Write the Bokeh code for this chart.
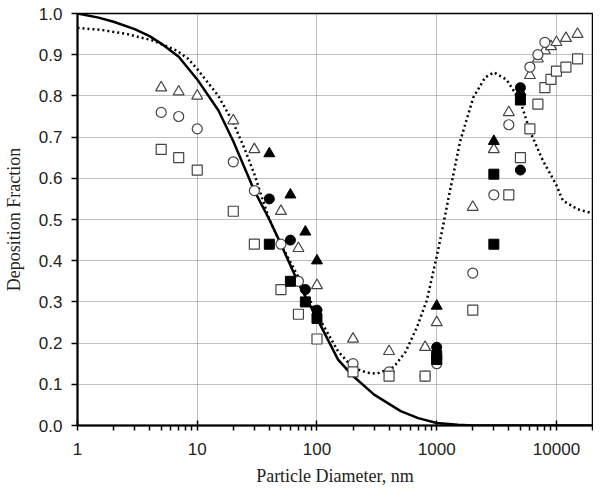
from bokeh.plotting import figure
from bokeh.models import Range1d, FixedTicker
from bokeh.embed import file_html
from bokeh.resources import INLINE

# ---- data ----
open_tri_x = [5, 7, 10, 20, 30, 50, 70, 100, 200, 400, 800, 1000, 2000, 3000, 4000, 6000, 7000, 8000, 9000, 10000, 12000, 15000]
open_tri_y = [0.82, 0.81, 0.80, 0.74, 0.67, 0.52, 0.43, 0.34, 0.21, 0.18, 0.19, 0.25, 0.53, 0.67, 0.76, 0.85, 0.89, 0.91, 0.92, 0.93, 0.94, 0.95]

open_circ_x = [5, 7, 10, 20, 30, 50, 70, 200, 400, 800, 1000, 2000, 3000, 4000, 6000, 7000, 8000]
open_circ_y = [0.76, 0.75, 0.72, 0.64, 0.57, 0.44, 0.35, 0.15, 0.13, 0.12, 0.15, 0.37, 0.56, 0.73, 0.87, 0.90, 0.93]

open_sq_x = [5, 7, 10, 20, 30, 50, 70, 100, 200, 400, 800, 2000, 4000, 5000, 6000, 7000, 8000, 9000, 10000, 12000, 15000]
open_sq_y = [0.67, 0.65, 0.62, 0.52, 0.44, 0.33, 0.27, 0.21, 0.13, 0.12, 0.12, 0.28, 0.56, 0.65, 0.72, 0.78, 0.82, 0.84, 0.86, 0.87, 0.89]

fill_tri_x = [40, 60, 80, 100, 1000, 3000, 5000]
fill_tri_y = [0.66, 0.56, 0.47, 0.40, 0.29, 0.69, 0.81]

fill_circ_x = [40, 60, 80, 100, 1000, 5000, 5000]
fill_circ_y = [0.55, 0.45, 0.33, 0.28, 0.19, 0.82, 0.62]

fill_sq_x = [40, 60, 80, 100, 1000, 1000, 3000, 3000, 5000]
fill_sq_y = [0.44, 0.35, 0.30, 0.26, 0.17, 0.16, 0.61, 0.44, 0.79]

solid_x = [1, 1.5, 2, 3, 4, 5, 7, 10, 15, 20, 30, 40, 50, 70, 100, 150, 200, 300, 500, 700, 1000, 1500, 2000, 5000, 20000]
solid_y = [1.0, 0.99, 0.98, 0.962, 0.945, 0.927, 0.895, 0.84, 0.765, 0.69, 0.57, 0.50, 0.44, 0.345, 0.26, 0.16, 0.12, 0.075, 0.035, 0.018, 0.006, 0.002, 0.0, 0.0, 0.0]

dotted_x = [1, 1.6, 2.6, 4.2, 6.75, 8.4, 10, 15, 20, 25, 30, 35, 40, 50, 70, 100, 150, 200, 264, 318, 438, 550, 685, 827, 1000, 1140, 1250, 1570, 2020, 2540, 3000, 3820, 4980, 6000, 7700, 9900, 11300, 15000, 20000]
dotted_y = [0.965, 0.96, 0.95, 0.935, 0.91, 0.89, 0.865, 0.80, 0.735, 0.67, 0.61, 0.55, 0.50, 0.44, 0.36, 0.27, 0.18, 0.14, 0.128, 0.126, 0.142, 0.179, 0.239, 0.304, 0.41, 0.49, 0.55, 0.69, 0.796, 0.845, 0.857, 0.84, 0.788, 0.715, 0.643, 0.586, 0.546, 0.525, 0.515]

x_ticks = [1, 10, 100, 1000, 10000]
x_tick_labels = ["1", "10", "100", "1000", "10000"]
y_ticks = [0.0, 0.1, 0.2, 0.3, 0.4, 0.5, 0.6, 0.7, 0.8, 0.9, 1.0]

# ---- figure ----
p = figure(width=593, height=494, x_axis_type="log",
           x_range=Range1d(1, 20000), y_range=Range1d(0, 1),
           output_backend="svg", toolbar_location=None,
           min_border_left=75, min_border_right=1, min_border_top=13, min_border_bottom=69)
p.background_fill_color = "white"
p.border_fill_color = "white"
p.outline_line_color = "black"
p.outline_line_width = 1.5

minor = []
for d in [1, 10, 100, 1000, 10000]:
    for k in range(2, 10):
        if d * k <= 20000:
            minor.append(d * k)
p.xaxis.ticker = FixedTicker(ticks=x_ticks, minor_ticks=minor)
p.xaxis.major_label_overrides = {t: l for t, l in zip(x_ticks, x_tick_labels)}
p.yaxis.ticker = FixedTicker(ticks=y_ticks)
p.yaxis.major_label_overrides = {t: f"{t:.1f}" for t in y_ticks}

for ax in (p.xaxis, p.yaxis):
    ax.axis_line_color = "black"
    ax.axis_line_width = 2
    ax.major_tick_line_color = "black"
    ax.major_tick_line_width = 1.5
    ax.minor_tick_line_color = "black"
    ax.minor_tick_line_width = 1.5
    ax.major_label_text_font = "Liberation Sans"
    ax.major_label_text_font_size = "17px"
    ax.major_label_text_color = "#222222"
    ax.axis_label_text_font = "Liberation Serif"
    ax.axis_label_text_font_size = "18px"
    ax.axis_label_text_font_style = "normal"
    ax.axis_label_text_color = "#222222"

p.xaxis.major_tick_in = 5
p.xaxis.major_tick_out = 5
p.xaxis.minor_tick_in = 0
p.xaxis.minor_tick_out = 5
p.xaxis.major_label_standoff = 12
p.xaxis.axis_label = "Particle Diameter, nm"
p.xaxis.axis_label_standoff = 8

p.yaxis.major_tick_in = 0
p.yaxis.major_tick_out = 6
p.yaxis.minor_tick_line_color = None
p.yaxis.major_label_standoff = 9
p.yaxis.axis_label = "Deposition Fraction"
p.yaxis.axis_label_standoff = 12

for g in (p.xgrid, p.ygrid):
    g.grid_line_color = "#808080"
    g.grid_line_dash = "1 1"
    g.grid_line_width = 1

# curves
p.line(solid_x, solid_y, line_color="black", line_width=2.5)
p.line(dotted_x, dotted_y, line_color="black", line_width=2.5, line_dash="2 3")

# markers
mk_line = "#444444"
p.scatter(open_tri_x, open_tri_y, marker="triangle", size=11, fill_color="white", line_color=mk_line, line_width=1.2)
p.scatter(open_circ_x, open_circ_y, marker="circle", size=10, fill_color="white", line_color=mk_line, line_width=1.2)
p.scatter(open_sq_x, open_sq_y, marker="square", size=10, fill_color="white", line_color=mk_line, line_width=1.2)
p.scatter(fill_tri_x, fill_tri_y, marker="triangle", size=11, fill_color="black", line_color="black")
p.scatter(fill_circ_x, fill_circ_y, marker="circle", size=10, fill_color="black", line_color="black")
p.scatter(fill_sq_x, fill_sq_y, marker="square", size=10, fill_color="black", line_color="black")

open("out.html", "w").write(file_html(p, INLINE))
